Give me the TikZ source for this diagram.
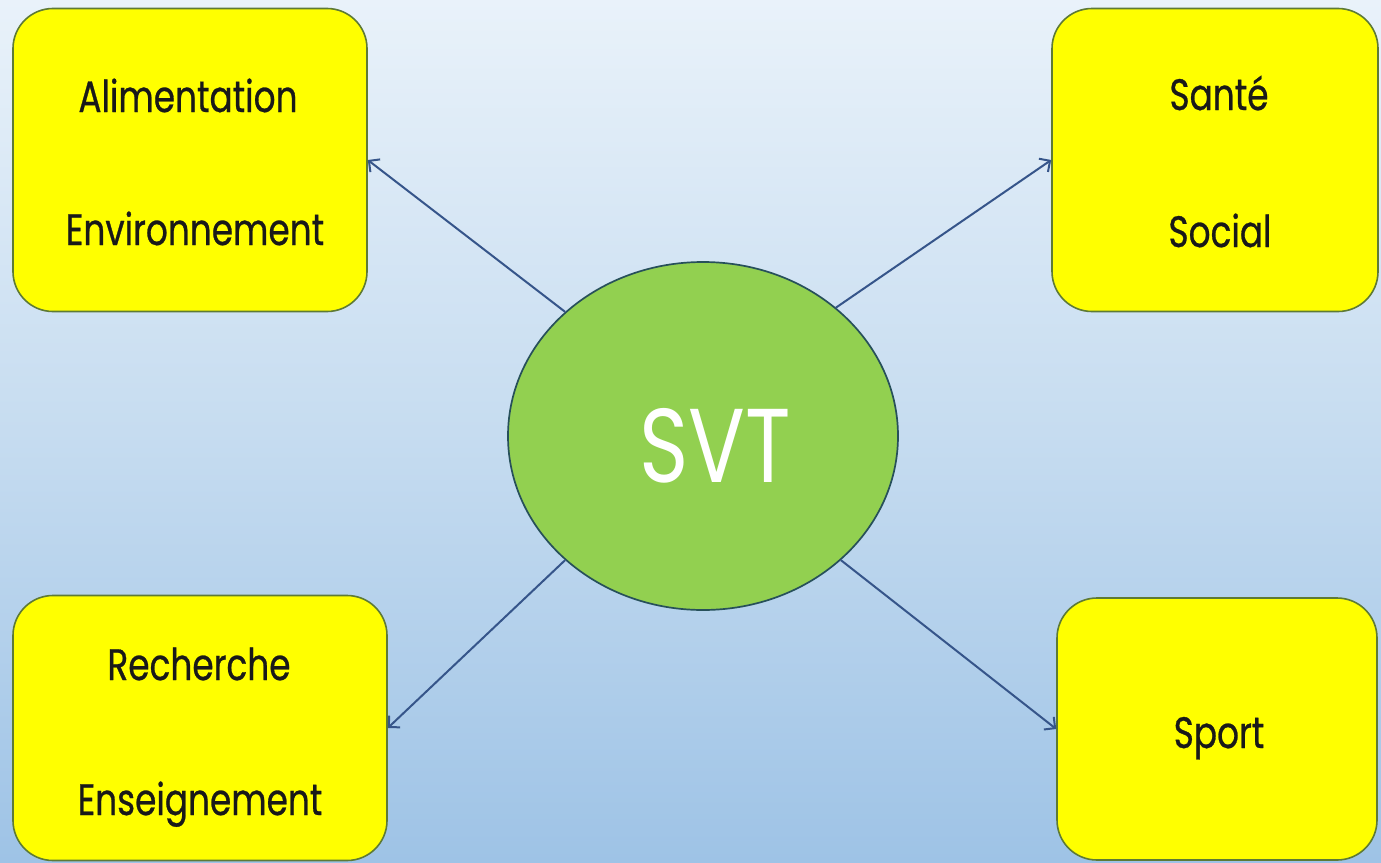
\documentclass[tikz,border=0pt]{standalone}
\usepackage{fontspec}
\setmainfont{Poppins}
\newfontfamily\narrowfont[FakeStretch=0.8]{Poppins}
\newfontfamily\labelfont[FakeStretch=0.78,FakeBold=0.6]{Poppins}
\usetikzlibrary{shapes.geometric,arrows.meta}
\definecolor{bgtop}{HTML}{E9F2FA}
\definecolor{bgmid}{HTML}{C6DCF0}
\definecolor{bgbot}{HTML}{9EC3E6}
\definecolor{boxfill}{HTML}{FFFF00}
\definecolor{boxline}{HTML}{5E7A35}
\definecolor{ellfill}{HTML}{92D050}
\definecolor{ellline}{HTML}{27505A}
\definecolor{arrowcol}{HTML}{36558A}
\tikzset{
  topic/.style={draw=boxline, line width=1.6pt, fill=boxfill, rounded corners=40pt,
    inner sep=0pt},
  lbl/.style={anchor=base, inner sep=0pt, text=black!90,
    font=\labelfont\fontsize{44}{50}\selectfont},
  hub/.style={ellipse, draw=ellline, line width=1.7pt, fill=ellfill, inner sep=0pt,
    minimum width=390pt, minimum height=348pt},
  hubtext/.style={anchor=base, inner sep=0pt, text=white,
    font=\narrowfont\fontsize{105}{110}\selectfont},
  link/.style={draw=arrowcol, line width=2pt, -{Straight Barb[length=8pt,width=16pt]}}
}
\begin{document}
\begin{tikzpicture}[x=1pt,y=-1pt]
\useasboundingbox (0,0) rectangle (1381,862);
\shade[top color=bgtop, bottom color=bgbot, middle color=bgmid] (0,0) rectangle (1381,862);
\node[topic, minimum width=354pt, minimum height=303pt] (tl) at (190,160) {};
\node[topic, minimum width=326pt, minimum height=303pt] (tr) at (1215,160) {};
\node[topic, minimum width=374pt, minimum height=265pt] (bl) at (200,728) {};
\node[topic, minimum width=320pt, minimum height=262pt] (br) at (1217,729) {};
\node[lbl] (tla) at (188,112) {Alimentation};
\node[lbl] (tlb) at (195,245) {Environnement};
\node[lbl] (tra) at (1219,110) {Santé};
\node[lbl] (trb) at (1220,247) {Social};
\node[lbl] (bla) at (199,680) {Recherche};
\node[lbl] (blb) at (200,815) {Enseignement};
\node[lbl] (bra) at (1219,748) {Sport};
\node[hub] (svt) at (703,436) {};
\node[hubtext] (svtt) at (715,482) {SVT};
\draw[link] (svt.138) -- (tl.east);
\draw[link] (svt.44) -- (tr.west);
\draw[link] (svt.222) -- (bl.east);
\draw[link] (svt.318) -- (br.west);
\end{tikzpicture}
\end{document}
